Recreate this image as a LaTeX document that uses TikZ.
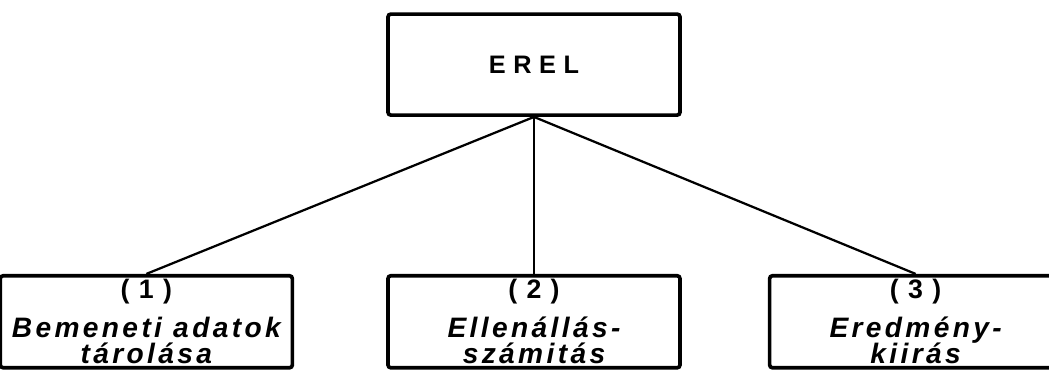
\documentclass[tikz,border=0pt]{standalone}
\usepackage{fontspec}
\setmainfont{Liberation Sans}
\usetikzlibrary{positioning}

\begin{document}
\begin{tikzpicture}[auto, thick, node distance=0.5cm]
% Definition of blocks:
\tikzset{%
  block/.style = {draw, line width=2.6pt, rectangle, rounded corners=2pt, minimum width=7.3cm, minimum height=2.525cm, font=\fontsize{18}{20}\selectfont\bfseries\addfontfeatures{LetterSpace=30}},
  task/.style  = {draw, line width=2.6pt, rectangle, rounded corners=2pt, minimum width=7.3cm, inner ysep=2.5pt, align=center, font=\fontsize{20}{20}\selectfont\bfseries\itshape\addfontfeatures{LetterSpace=12}},
  link/.style  = {line width=1.6pt} % connector
}
\newcommand{\tasknum}[1]{{\fontsize{19}{20}\selectfont\upshape\addfontfeatures{LetterSpace=35}(#1)}}
\lineskiplimit=-20pt

\clip (0,0) rectangle (26.225,9.225);

\draw
	node [block] (Erel) at (13.35,7.61) {EREL}
	node [task, below = 3.925cm of Erel] (Ellen) {\tasknum{2}\\[7.7pt] Ellenállás-\\[-1.2pt] számitás}
	node [task, left = 2.3cm of Ellen] (Bemenet) {\tasknum{1}\\[7.7pt] Bemeneti adatok\\[-1.2pt] tárolása}
	node [task, right = 2.15cm of Ellen] (Eredmeny) {\tasknum{3}\\[7.7pt] Eredmény-\\[-1.2pt] kiirás};

\draw[link](Erel.south) -- (Bemenet.north);
\draw[link](Erel.south) -- (Ellen.north);
\draw[link](Erel.south) -- (Eredmeny.north);

\end{tikzpicture}
\end{document}
